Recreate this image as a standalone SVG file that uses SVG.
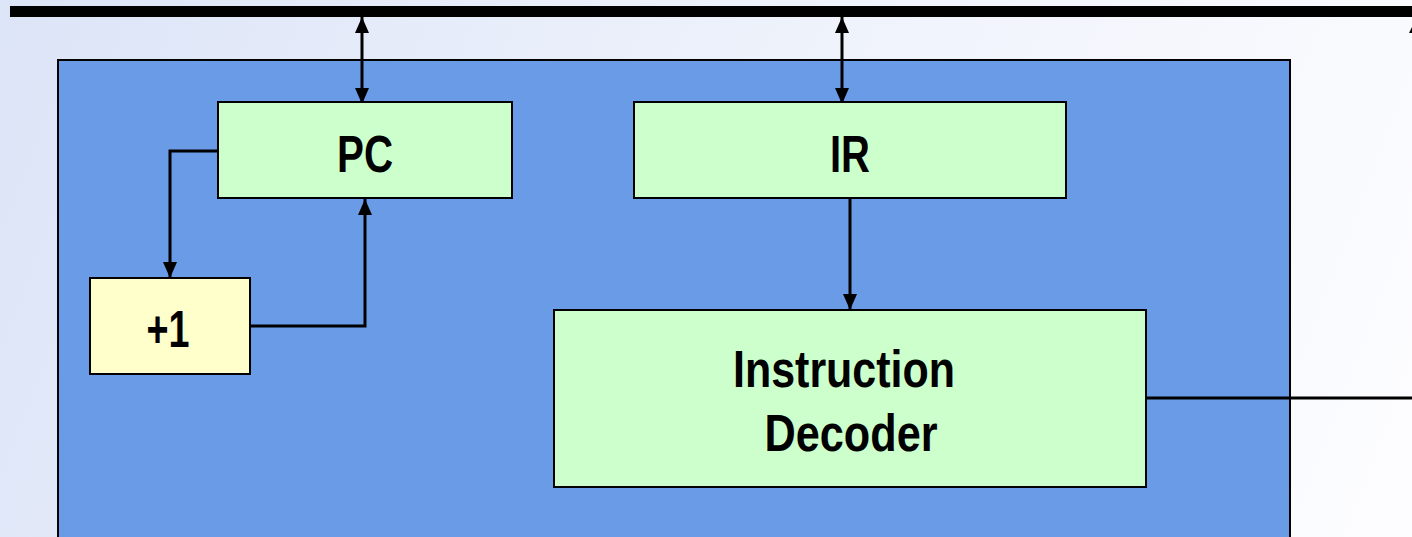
<svg xmlns="http://www.w3.org/2000/svg" width="1412" height="537" viewBox="0 0 1412 537">
  <defs>
    <linearGradient id="bg" x1="0" y1="0" x2="1412" y2="537" gradientUnits="userSpaceOnUse">
      <stop offset="0" stop-color="#dce4f7"/>
      <stop offset="0.5" stop-color="#eef2fb"/>
      <stop offset="1" stop-color="#fdfdff"/>
    </linearGradient>
    <marker id="arrow" viewBox="0 0 16 14" refX="16" refY="7" markerWidth="16" markerHeight="14" markerUnits="userSpaceOnUse" orient="auto-start-reverse">
      <path d="M0,0 L16,7 L0,14 z" fill="#000"/>
    </marker>
    <style>
      .reg { fill: #ccffcc; stroke: #000; stroke-width: 2; }
      .inc { fill: #ffffcc; stroke: #000; stroke-width: 2; }
      .lbl { font-family: "Liberation Sans", Arial, sans-serif; font-weight: bold; font-size: 52px; fill: #000; text-anchor: middle; }
      .wire { fill: none; stroke: #000; stroke-width: 3; }
    </style>
  </defs>

  <!-- backdrop -->
  <rect x="0" y="0" width="1412" height="537" fill="url(#bg)"/>

  <!-- system bus -->
  <rect id="bus" x="10" y="6" width="1402" height="11" fill="#000"/>
  <polygon points="1409,33 1412,27 1412,33" fill="#000"/>

  <!-- CPU control unit outline -->
  <g id="cpu">
    <rect x="58" y="60" width="1232" height="490" fill="#6a9be6" stroke="#000" stroke-width="2"/>
  </g>

  <!-- connectors -->
  <g id="connectors">
    <line class="wire" x1="362" y1="17" x2="362" y2="104" marker-start="url(#arrow)" marker-end="url(#arrow)"/>
    <line class="wire" x1="842" y1="17" x2="842" y2="104" marker-start="url(#arrow)" marker-end="url(#arrow)"/>
    <polyline class="wire" points="218,151 170,151 170,278" marker-end="url(#arrow)"/>
    <polyline class="wire" points="250,326 365,326 365,199" marker-end="url(#arrow)"/>
    <line class="wire" x1="850" y1="198" x2="850" y2="310" marker-end="url(#arrow)"/>
    <line class="wire" x1="1146" y1="398" x2="1412" y2="398"/>
  </g>

  <g id="pc">
    <rect class="reg" x="218" y="102" width="294" height="96"/>
    <text class="lbl" x="365" y="172" textLength="56" lengthAdjust="spacingAndGlyphs">PC</text>
  </g>

  <g id="ir">
    <rect class="reg" x="634" y="102" width="432" height="96"/>
    <text class="lbl" x="850" y="172" textLength="40" lengthAdjust="spacingAndGlyphs">IR</text>
  </g>

  <g id="incrementer">
    <rect class="inc" x="90" y="278" width="160" height="96"/>
    <text class="lbl" x="168" y="347" textLength="43" lengthAdjust="spacingAndGlyphs">+1</text>
  </g>

  <g id="decoder">
    <rect class="reg" x="554" y="310" width="592" height="177"/>
    <text class="lbl" x="844" y="387" textLength="222" lengthAdjust="spacingAndGlyphs">Instruction</text>
    <text class="lbl" x="851" y="451" textLength="173" lengthAdjust="spacingAndGlyphs">Decoder</text>
  </g>
</svg>
